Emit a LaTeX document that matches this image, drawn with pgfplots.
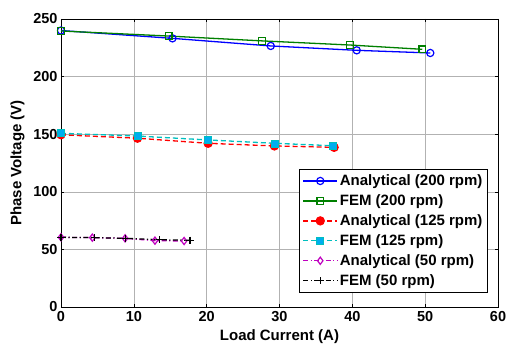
\documentclass[border=0pt]{standalone}
\usepackage{pgfplots}
\pgfplotsset{compat=1.18}
\usepackage{fontspec}
\setmainfont{Liberation Sans}
\definecolor{mgreen}{rgb}{0,0.5,0}
\definecolor{mcyan}{rgb}{0,0.75,0.75}
\definecolor{mmag}{rgb}{0.75,0,0.75}
\begin{document}
\begin{tikzpicture}
\path[use as bounding box] (-61bp,-40bp) rectangle (447bp,307bp);
\begin{axis}[
  at={(0,0)}, anchor=south west,
  scale only axis, width=437bp, height=288bp,
  xmin=0, xmax=60, ymin=0, ymax=250,
  xtick={0,10,...,60}, ytick={0,50,...,250},
  grid=major, major grid style={gray!60, line width=0.6pt},
  tick align=inside, major tick length=3bp,
  tick style={black, line width=0.5pt},
  axis line style={black, line width=1pt},
  /pgf/number format/assume math mode=true,
  tick label style={font=\fontsize{14.5bp}{16bp}\selectfont\bfseries},
  xticklabel style={yshift=-1bp},
  label style={font=\fontsize{15bp}{17bp}\selectfont\bfseries},
  xlabel={Load Current (A)},
  ylabel={Phase Voltage (V)},
  xlabel style={yshift=-1bp},
  ylabel style={yshift=2bp},
  legend style={font=\fontsize{15bp}{17bp}\selectfont\bfseries,
    at={(0.977,0.049)}, anchor=south east, draw=black, line width=1pt,
    inner xsep=3bp, inner ysep=3.5bp, row sep=3.6bp, cells={anchor=west}},
  legend image post style={line width=1.3pt},
  legend image code/.code={%
    \draw[mark repeat=2,mark phase=2] plot coordinates {(0cm,0cm) (0.6cm,0cm) (1.2cm,0cm)};},
]
\addplot[blue, line width=1.3pt, mark=o, mark size=3.6bp, mark options={solid, line width=1.2pt}]
  coordinates {(0,240) (15.3,233.2) (28.8,226.6) (40.6,222.8) (50.7,220.5)};
\addlegendentry{Analytical (200 rpm)}
\addplot[mgreen, line width=1.3pt, mark=square, mark size=3.3bp, mark options={solid, line width=1.2pt}]
  coordinates {(0,239.6) (14.8,235.2) (27.6,231) (39.7,227.4) (49.6,223.7)};
\addlegendentry{FEM (200 rpm)}
\addplot[red, line width=1.3pt, dash pattern=on 5bp off 3bp, mark=*, mark size=4bp, mark options={solid}]
  coordinates {(0,149.5) (10.5,146.5) (20.2,142.1) (29.3,139.8) (37.5,138.6)};
\addlegendentry{Analytical (125 rpm)}
\addplot[mcyan, line width=1.3pt, dash pattern=on 5bp off 3bp, mark=square*, mark size=3.5bp, mark options={solid, fill=cyan, draw=mcyan, line width=0.6pt}]
  coordinates {(0,150.8) (10.5,148.4) (20.2,145) (29.3,142.1) (37.3,140)};
\addlegendentry{FEM (125 rpm)}
\addplot[mmag, line width=1.3pt, dash pattern=on 5bp off 2.5bp on 1.2bp off 2.5bp, mark=diamond, mark size=3.6bp, mark options={solid, line width=1.2pt}]
  coordinates {(0,60.5) (4.3,60.2) (8.8,59.6) (12.9,57.6) (16.9,57.3)};
\addlegendentry{Analytical (50 rpm)}
\addplot[black, line width=1.3pt, dash pattern=on 5bp off 2.5bp on 1.2bp off 2.5bp, mark=+, mark size=3.6bp, mark options={solid, line width=1.2pt}]
  coordinates {(0,60.5) (4.6,60.2) (8.9,59.6) (13.5,58.4) (17.7,57.9)};
\addlegendentry{FEM (50 rpm)}
\end{axis}
\end{tikzpicture}
\end{document}
